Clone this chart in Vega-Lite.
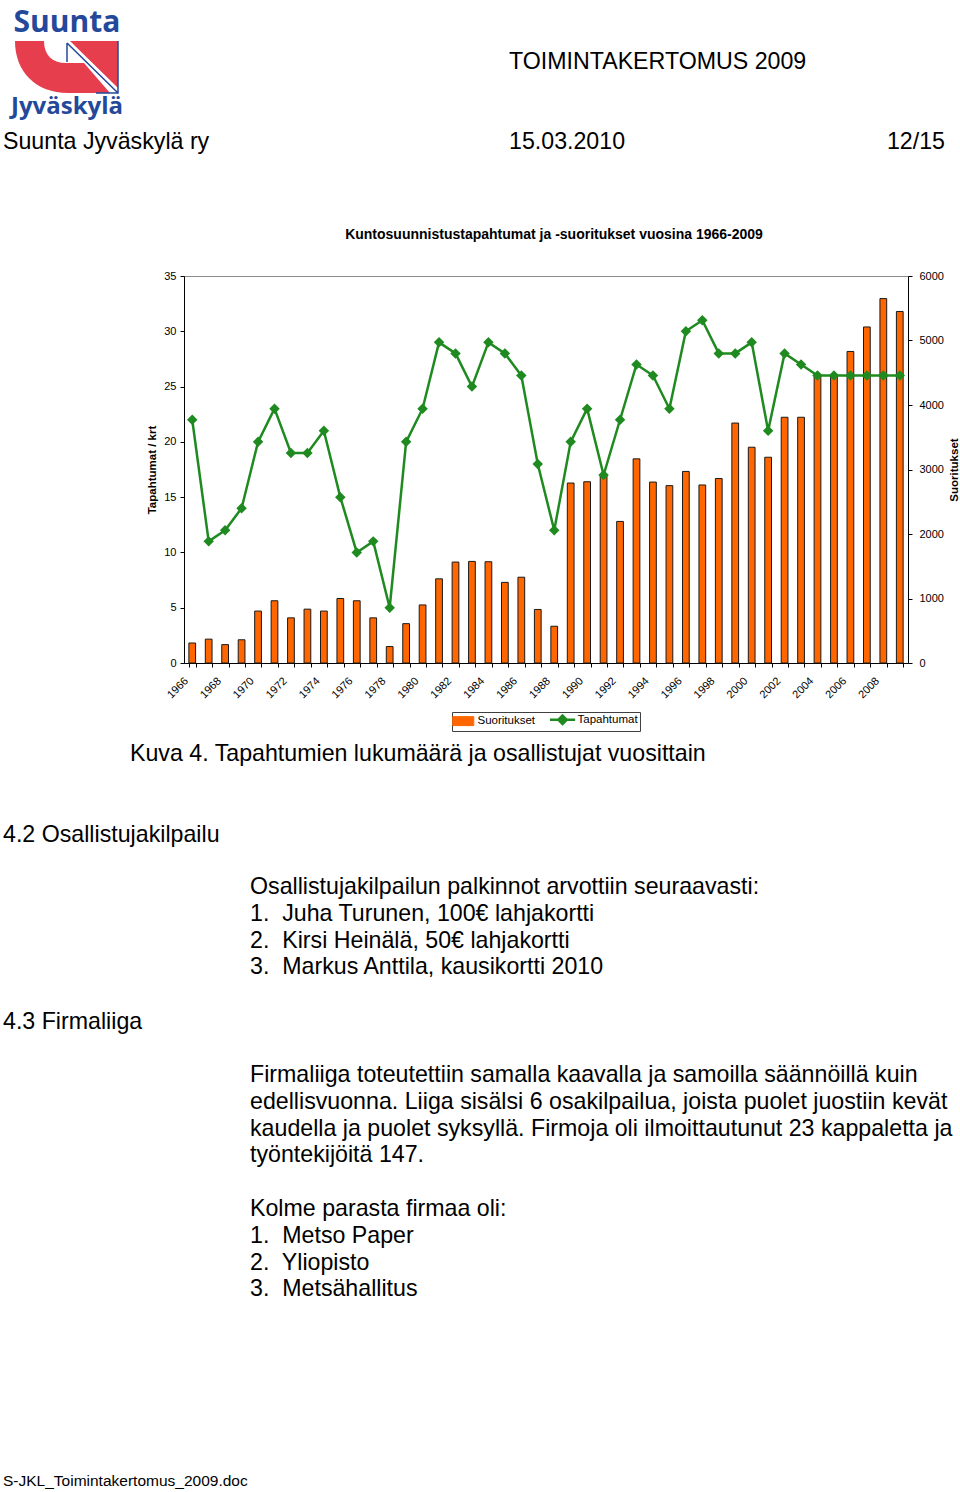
{
  "$schema": "https://vega.github.io/schema/vega-lite/v6.json",
  "padding": 0,
  "bounds": "flush",
  "spacing": 0,
  "background": "white",
  "resolve": {"scale": {"color": "independent"}, "legend": {"color": "independent"}},
  "config": {
    "view": {"stroke": null},
    "font": "Liberation Sans",
    "axis": {"labelFont": "Liberation Sans", "titleFont": "Liberation Sans", "labelColor": "#000", "titleColor": "#000", "tickColor": "#000", "domainColor": "#000", "grid": false, "labelFontSize": 11},
    "legend": {"layout": {"bottom": {"anchor": "middle"}}}
  },
  "vconcat": [
    {
      "bounds": "flush", "spacing": 0,
      "hconcat": [
        {
          "width": 134, "height": 130,
          "layer": [
            {
              "data": {"values": [{"part": "mark"}]},
              "mark": {"type": "point", "shape": "M-1,-0.4615L-0.4423,-0.4615C-0.4423,-0.1923,-0.2885,-0.0385,-0.0192,-0.0385L0.3269,-0.0385L0.8269,0.5385L0.0192,0.5385C-0.5962,0.5385,-1,0.1346,-1,-0.4615Z M0.0577,-0.4615L0.9808,-0.4615L0.9808,0.4423Z", "size": 10816, "filled": true, "color": "#e63e4c", "strokeWidth": 0, "opacity": 1},
              "encoding": {"y": {"field": "part", "type": "nominal", "scale": {"domain": ["name", "mark", "city"], "padding": 0.566}, "axis": null}}
            },
            {
              "data": {"values": [{"part": "mark"}]},
              "mark": {"type": "point", "shape": "M0,-0.4231L0,-0.0577M0,-0.4231L0.9808,0.5385M0.9808,-0.4615L0.9808,0.5385L0.5577,0.5385", "size": 10816, "filled": false, "color": "#24489a", "strokeWidth": 1.5, "opacity": 1},
              "encoding": {"y": {"field": "part", "type": "nominal", "axis": null}}
            },
            {
              "data": {"values": [{"part": "name", "t": "Suunta"}]},
              "mark": {"type": "text", "font": "Open Sans", "fontWeight": "bold", "fontSize": 30, "color": "#24489a", "baseline": "middle", "align": "center"},
              "encoding": {"y": {"field": "part", "type": "nominal", "axis": null}, "text": {"field": "t"}}
            },
            {
              "data": {"values": [{"part": "city", "t": "Jyväskylä"}]},
              "mark": {"type": "text", "font": "Open Sans", "fontWeight": "bold", "fontSize": 24, "color": "#24489a", "baseline": "middle", "align": "center"},
              "encoding": {"y": {"field": "part", "type": "nominal", "axis": null}, "text": {"field": "t"}}
            }
          ]
        },
        {"width": 374, "height": 1, "data": {"values": []}, "mark": "point"},
        {
          "width": 2, "height": 123,
          "data": {"values": [{"t": "TOIMINTAKERTOMUS 2009"}]},
          "mark": {"type": "text", "align": "left", "baseline": "middle", "fontSize": 23.2, "color": "#000"},
          "encoding": {"text": {"field": "t"}}
        }
      ]
    },
    {"width": 960, "height": 130, "data": {"values": []}, "mark": "point"},
    {
      "bounds": "flush", "spacing": 0,
      "hconcat": [
        {
          "width": 6, "height": 24,
          "data": {"values": [{"t": "Suunta Jyväskylä ry"}]},
          "mark": {"type": "text", "align": "left", "baseline": "middle", "fontSize": 23.2, "color": "#000"},
          "encoding": {"text": {"field": "t"}}
        },
        {"width": 502, "height": 1, "data": {"values": []}, "mark": "point"},
        {
          "width": 2, "height": 24,
          "data": {"values": [{"t": "15.03.2010"}]},
          "mark": {"type": "text", "align": "left", "baseline": "middle", "fontSize": 23.2, "color": "#000"},
          "encoding": {"text": {"field": "t"}}
        },
        {"width": 434, "height": 1, "data": {"values": []}, "mark": "point"},
        {
          "width": 2, "height": 24,
          "data": {"values": [{"t": "12/15"}]},
          "mark": {"type": "text", "align": "right", "baseline": "middle", "fontSize": 23.2, "color": "#000"},
          "encoding": {"text": {"field": "t"}}
        }
      ]
    },
    {"width": 960, "height": 146, "data": {"values": []}, "mark": "point"},
    {
      "bounds": "flush", "spacing": 0,
      "resolve": {"scale": {"color": "independent"}, "legend": {"color": "independent"}},
      "hconcat": [
        {"width": 184, "height": 387, "data": {"values": []}, "mark": "point"},
        {
          "width": 724, "height": 387,
          "view": {"stroke": "#8c8c8c", "strokeWidth": 1},
          "title": {"text": "Kuntosuunnistustapahtumat ja -suoritukset vuosina 1966-2009", "font": "Liberation Sans", "fontSize": 14, "fontWeight": "bold", "color": "#000", "offset": 28, "dx": 8, "anchor": "middle"},
          "data": {"values": [
            {"year": 1966, "tapahtumat": 22, "suoritukset": 310},
            {"year": 1967, "tapahtumat": 11, "suoritukset": 370},
            {"year": 1968, "tapahtumat": 12, "suoritukset": 285},
            {"year": 1969, "tapahtumat": 14, "suoritukset": 360},
            {"year": 1970, "tapahtumat": 20, "suoritukset": 805},
            {"year": 1971, "tapahtumat": 23, "suoritukset": 965},
            {"year": 1972, "tapahtumat": 19, "suoritukset": 700},
            {"year": 1973, "tapahtumat": 19, "suoritukset": 835},
            {"year": 1974, "tapahtumat": 21, "suoritukset": 805},
            {"year": 1975, "tapahtumat": 15, "suoritukset": 1000},
            {"year": 1976, "tapahtumat": 10, "suoritukset": 965},
            {"year": 1977, "tapahtumat": 11, "suoritukset": 700},
            {"year": 1978, "tapahtumat": 5, "suoritukset": 255},
            {"year": 1979, "tapahtumat": 20, "suoritukset": 610},
            {"year": 1980, "tapahtumat": 23, "suoritukset": 900},
            {"year": 1981, "tapahtumat": 29, "suoritukset": 1305},
            {"year": 1982, "tapahtumat": 28, "suoritukset": 1565},
            {"year": 1983, "tapahtumat": 25, "suoritukset": 1575},
            {"year": 1984, "tapahtumat": 29, "suoritukset": 1570},
            {"year": 1985, "tapahtumat": 28, "suoritukset": 1250},
            {"year": 1986, "tapahtumat": 26, "suoritukset": 1330},
            {"year": 1987, "tapahtumat": 18, "suoritukset": 830},
            {"year": 1988, "tapahtumat": 12, "suoritukset": 570},
            {"year": 1989, "tapahtumat": 20, "suoritukset": 2790},
            {"year": 1990, "tapahtumat": 23, "suoritukset": 2810},
            {"year": 1991, "tapahtumat": 17, "suoritukset": 2900},
            {"year": 1992, "tapahtumat": 22, "suoritukset": 2195},
            {"year": 1993, "tapahtumat": 27, "suoritukset": 3165},
            {"year": 1994, "tapahtumat": 26, "suoritukset": 2805},
            {"year": 1995, "tapahtumat": 23, "suoritukset": 2750},
            {"year": 1996, "tapahtumat": 30, "suoritukset": 2970},
            {"year": 1997, "tapahtumat": 31, "suoritukset": 2760},
            {"year": 1998, "tapahtumat": 28, "suoritukset": 2860},
            {"year": 1999, "tapahtumat": 28, "suoritukset": 3720},
            {"year": 2000, "tapahtumat": 29, "suoritukset": 3345},
            {"year": 2001, "tapahtumat": 21, "suoritukset": 3190},
            {"year": 2002, "tapahtumat": 28, "suoritukset": 3810},
            {"year": 2003, "tapahtumat": 27, "suoritukset": 3810},
            {"year": 2004, "tapahtumat": 26, "suoritukset": 4470},
            {"year": 2005, "tapahtumat": 26, "suoritukset": 4460},
            {"year": 2006, "tapahtumat": 26, "suoritukset": 4830},
            {"year": 2007, "tapahtumat": 26, "suoritukset": 5210},
            {"year": 2008, "tapahtumat": 26, "suoritukset": 5650},
            {"year": 2009, "tapahtumat": 26, "suoritukset": 5450}
          ]},
          "encoding": {
            "x": {"field": "year", "type": "ordinal", "scale": {"paddingInner": 0.59, "paddingOuter": 0.295},
                  "axis": {"title": null, "labelAngle": -45, "labelAlign": "right", "labelBaseline": "middle", "labelOffset": -6, "labelExpr": "datum.value % 2 === 0 ? datum.label : ''", "tickBand": "extent", "tickSize": 4, "labelFontSize": 11, "labelPadding": 12}}
          },
          "layer": [
            {
              "mark": {"type": "bar", "stroke": "#1a1a1a", "strokeWidth": 1},
              "encoding": {
                "y": {"field": "suoritukset", "type": "quantitative", "scale": {"domain": [0, 6000], "nice": false},
                      "axis": {"orient": "right", "title": "Suoritukset", "format": "d", "values": [0, 1000, 2000, 3000, 4000, 5000, 6000], "tickSize": 4, "labelPadding": 7, "titleFontSize": 11.5, "titleFontWeight": "bold", "titleAngle": 270, "titleBaseline": "top", "titlePadding": 5}},
                "color": {"datum": "Suoritukset", "scale": {"domain": ["Suoritukset", "Tapahtumat"], "range": ["#ff6600", "#1f8a1f"]},
                          "legend": {"orient": "bottom", "direction": "horizontal", "title": null, "offset": 12, "padding": 2, "strokeColor": "#404040", "symbolSize": 196, "labelFontSize": 11.5, "labelFont": "Liberation Sans", "labelColor": "#000", "labelOffset": 12, "columnPadding": 8,
                                     "symbolType": {"expr": "datum.value === 'Suoritukset' ? 'M-1,-0.64H2V0.64H-1Z' : 'M-1.4,0H2.2M0.4,-0.6L1,0L0.4,0.6L-0.2,0Z'"},
                                     "symbolStrokeColor": {"expr": "datum.value === 'Suoritukset' ? '#1a1a1a' : '#1f8a1f'"},
                                     "symbolStrokeWidth": {"expr": "datum.value === 'Suoritukset' ? 1 : 2.5"},
                                     "symbolOpacity": 1}}
              }
            },
            {
              "mark": {"type": "line", "strokeWidth": 2.5, "point": {"shape": "diamond", "size": 110, "filled": true, "opacity": 1}},
              "encoding": {
                "y": {"field": "tapahtumat", "type": "quantitative", "scale": {"domain": [0, 35], "nice": false},
                      "axis": {"orient": "left", "title": "Tapahtumat / krt", "values": [0, 5, 10, 15, 20, 25, 30, 35], "tickSize": 4, "labelPadding": 4, "titleFontSize": 11.5, "titleFontWeight": "bold", "titlePadding": 6}},
                "color": {"datum": "Tapahtumat",
                          "legend": {"orient": "bottom", "direction": "horizontal", "title": null, "offset": 12, "padding": 2, "strokeColor": "#404040", "symbolSize": 196, "labelFontSize": 11.5, "labelFont": "Liberation Sans", "labelColor": "#000", "labelOffset": 12, "columnPadding": 8,
                                     "symbolType": {"expr": "datum.value === 'Suoritukset' ? 'M-1,-0.64H2V0.64H-1Z' : 'M-1.4,0H2.2M0.4,-0.6L1,0L0.4,0.6L-0.2,0Z'"},
                                     "symbolStrokeColor": {"expr": "datum.value === 'Suoritukset' ? '#1a1a1a' : '#1f8a1f'"},
                                     "symbolStrokeWidth": {"expr": "datum.value === 'Suoritukset' ? 1 : 2.5"},
                                     "symbolOpacity": 1}}
              }
            }
          ],
          "resolve": {"scale": {"y": "independent"}}
        },
        {"width": 52, "height": 387, "data": {"values": []}, "mark": "point"}
      ]
    },
    {"width": 960, "height": 387, "data": {"values": []}, "mark": "point"},
    {
      "bounds": "flush", "spacing": 0,
      "hconcat": [
        {
          "width": 6, "height": 343,
          "data": {"values": [{"t": "4.2 Osallistujakilpailu"}]},
          "mark": {"type": "text", "align": "left", "baseline": "middle", "fontSize": 23.2, "color": "#000"},
          "encoding": {"text": {"field": "t"}}
        },
        {"width": 123, "height": 1, "data": {"values": []}, "mark": "point"},
        {
          "width": 2, "height": 182,
          "data": {"values": [{"t": "Kuva 4. Tapahtumien lukumäärä ja osallistujat vuosittain"}]},
          "mark": {"type": "text", "align": "left", "baseline": "middle", "fontSize": 23.2, "color": "#000"},
          "encoding": {"text": {"field": "t"}}
        },
        {"width": 118, "height": 1, "data": {"values": []}, "mark": "point"},
        {
          "width": 2, "height": 426,
          "data": {"values": [{"t": "Osallistujakilpailun palkinnot arvottiin seuraavasti:\n1.\u00a0 Juha Turunen, 100€ lahjakortti\n2.\u00a0 Kirsi Heinälä, 50€ lahjakortti\n3.\u00a0 Markus Anttila, kausikortti 2010"}]},
          "mark": {"type": "text", "align": "left", "baseline": "top", "fontSize": 23.2, "lineHeight": 26.8, "lineBreak": "\n", "color": "#000"},
          "encoding": {"text": {"field": "t"}}
        }
      ]
    },
    {"width": 960, "height": 300, "data": {"values": []}, "mark": "point"},
    {
      "bounds": "flush", "spacing": 0,
      "hconcat": [
        {
          "width": 6, "height": 117,
          "data": {"values": [{"t": "4.3 Firmaliiga"}]},
          "mark": {"type": "text", "align": "left", "baseline": "middle", "fontSize": 23.2, "color": "#000"},
          "encoding": {"text": {"field": "t"}}
        },
        {"width": 243, "height": 1, "data": {"values": []}, "mark": "point"},
        {
          "width": 2, "height": 202,
          "data": {"values": [{"t": "Firmaliiga toteutettiin samalla kaavalla ja samoilla säännöillä kuin\nedellisvuonna. Liiga sisälsi 6 osakilpailua, joista puolet juostiin kevät\nkaudella ja puolet syksyllä. Firmoja oli ilmoittautunut 23 kappaletta ja\ntyöntekijöitä 147."}]},
          "mark": {"type": "text", "align": "left", "baseline": "top", "fontSize": 23.2, "lineHeight": 26.8, "lineBreak": "\n", "color": "#000"},
          "encoding": {"text": {"field": "t"}}
        }
      ]
    },
    {
      "bounds": "flush", "spacing": 0,
      "hconcat": [
        {"width": 249, "height": 1, "data": {"values": []}, "mark": "point"},
        {
          "width": 2, "height": 470,
          "data": {"values": [{"t": "Kolme parasta firmaa oli:\n1.\u00a0 Metso Paper\n2.\u00a0 Yliopisto\n3.\u00a0 Metsähallitus"}]},
          "mark": {"type": "text", "align": "left", "baseline": "top", "fontSize": 23.2, "lineHeight": 26.8, "lineBreak": "\n", "color": "#000"},
          "encoding": {"text": {"field": "t"}}
        }
      ]
    },
    {"width": 960, "height": 507, "data": {"values": []}, "mark": "point"},
    {
      "width": 6, "height": 22,
      "data": {"values": [{"t": "S-JKL_Toimintakertomus_2009.doc"}]},
      "mark": {"type": "text", "align": "left", "baseline": "middle", "fontSize": 15.5, "color": "#000"},
      "encoding": {"text": {"field": "t"}}
    }
  ]
}
